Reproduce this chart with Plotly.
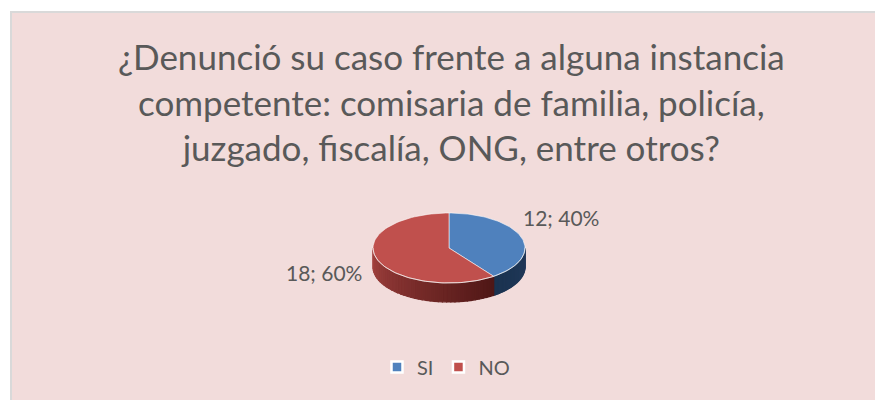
import math
import plotly.graph_objects as go

# ---- data ----
categories = ["SI", "NO"]
values = [12, 18]
colors = ["#4F81BD", "#C0504D"]
title_lines = ["¿Denunció su caso frente a alguna instancia",
               "competente: comisaria de familia, policía,",
               "juzgado, fiscalía, ONG, entre otros?"]

# ---- geometry (pixels) ----
W, H = 875, 400
cx, cy = 449, 248
ra, rb = 76, 35
depth = 19
FONT = "Lato"
TXT = "#595959"

def pt(theta, dy=0.0):
    t = math.radians(theta)
    return cx + ra * math.sin(t), cy - rb * math.cos(t) + dy

def lerp(c1, c2, f):
    a = [int(c1[i:i + 2], 16) for i in (1, 3, 5)]
    b = [int(c2[i:i + 2], 16) for i in (1, 3, 5)]
    return "#%02x%02x%02x" % tuple(round(a[k] + (b[k] - a[k]) * f) for k in range(3))

total = sum(values)
angles = []
acc = 0
for v in values:
    s = acc / total * 360
    acc += v
    e = acc / total * 360
    angles.append((s, e))

side_grad = {
    0: ("#22395A", "#1A3350"),
    1: ("#4E1615", "#A3423F"),
}

fig = go.Figure()

# side walls (visible front half, 90..270 deg)
for i, (s, e) in enumerate(angles):
    lo, hi = max(s, 90), min(e, 270)
    if hi <= lo:
        continue
    n = 40
    for k in range(n):
        a0 = lo + (hi - lo) * k / n
        a1 = lo + (hi - lo) * (k + 1) / n
        steps = 3
        top = [pt(a0 + (a1 - a0) * j / steps) for j in range(steps + 1)]
        bot = [pt(a0 + (a1 - a0) * j / steps, depth) for j in range(steps, -1, -1)]
        poly = top + bot + [top[0]]
        c = lerp(side_grad[i][0], side_grad[i][1], (k + 0.5) / n)
        fig.add_trace(go.Scatter(
            x=[p[0] for p in poly], y=[p[1] for p in poly], mode="lines",
            fill="toself", fillcolor=c, line=dict(color=c, width=1.2),
            hoverinfo="skip", showlegend=False))

# top faces
for i, (s, e) in enumerate(angles):
    n = 80
    arc = [pt(s + (e - s) * j / n) for j in range(n + 1)]
    poly = [(cx, cy)] + arc + [(cx, cy)]
    fig.add_trace(go.Scatter(
        x=[p[0] for p in poly], y=[p[1] for p in poly], mode="lines",
        fill="toself", fillcolor=colors[i],
        line=dict(color="rgba(255,255,255,0.55)", width=1),
        hoverinfo="skip", showlegend=False))

# highlight along front edge
arc = [pt(90 + 180 * j / 100) for j in range(101)]
fig.add_trace(go.Scatter(x=[p[0] for p in arc], y=[p[1] for p in arc], mode="lines",
                         line=dict(color="rgba(255,255,255,0.6)", width=1),
                         hoverinfo="skip", showlegend=False))

# legend entries
for i, cat in enumerate(categories):
    fig.add_trace(go.Scatter(x=[None], y=[None], mode="markers", name=cat,
                             marker=dict(symbol="square", size=11, color=colors[i],
                                         line=dict(color="white", width=2.5))))

# data labels
label_pos = [(561, 217), (324, 272)]
for i, v in enumerate(values):
    pct = round(v / total * 100)
    fig.add_annotation(x=label_pos[i][0], y=label_pos[i][1], xref="x", yref="y",
                       text=f"{v}; {pct}%", showarrow=False,
                       font=dict(family=FONT, size=21, color=TXT))

# title
fig.add_annotation(x=451, y=101, xref="x", yref="y", text="<br>".join(title_lines),
                   showarrow=False, font=dict(family=FONT, size=35, color=TXT),
                   align="center")

# chart area background with border
fig.add_shape(type="rect", x0=11 / W, y0=1 - 12 / H, x1=1.1, y1=-0.1, xref="paper", yref="paper",
              fillcolor="#F2DCDB", line=dict(color="#D9D9D9", width=2), layer="below")

fig.update_layout(
    width=W, height=H, margin=dict(l=0, r=0, t=0, b=0),
    paper_bgcolor="white", plot_bgcolor="white",
    xaxis=dict(range=[0, W], visible=False, fixedrange=True),
    yaxis=dict(range=[H, 0], visible=False, fixedrange=True),
    showlegend=True,
    legend=dict(orientation="h", x=446 / W, xanchor="center", y=1 - 367 / H, yanchor="middle",
                font=dict(family=FONT, size=20, color=TXT), bgcolor="rgba(0,0,0,0)",
                itemwidth=30, tracegroupgap=0),
)

fig.write_html("out.html", config={"displayModeBar": False, "staticPlot": True},
               post_script="document.body.style.margin='0';document.body.style.overflow='hidden';")
